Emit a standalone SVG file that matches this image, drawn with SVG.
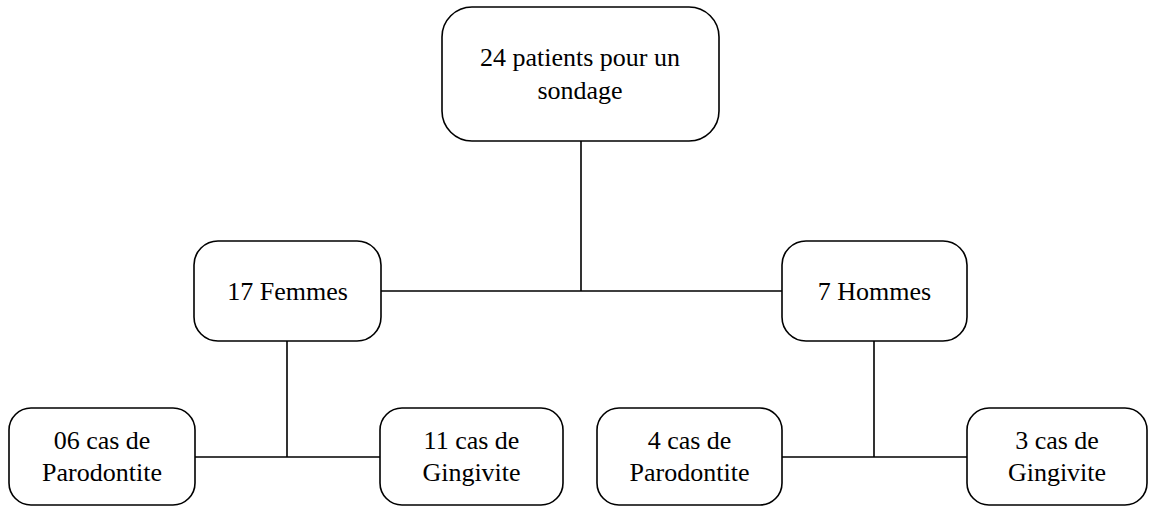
<svg xmlns="http://www.w3.org/2000/svg" width="1150" height="507" viewBox="0 0 1150 507">
<style>
.box{fill:#fff;stroke:#000;stroke-width:1.6}
.t{font-family:"Liberation Serif","Times New Roman",serif;font-size:26px;fill:#000;text-anchor:middle}
.c{stroke:#000;stroke-width:1.6;fill:none}
</style>
<rect width="1150" height="507" fill="#fff"/>
<g id="connectors">
<path class="c" d="M581 141V291M381 291H782"/>
<path class="c" d="M287 341V457M195 457H380"/>
<path class="c" d="M874 341V457M782 457H967"/>
</g>
<g id="root">
<rect class="box" x="442" y="7" width="277" height="134" rx="30"/>
<text class="t" x="580" y="66">24 patients pour un</text>
<text class="t" x="580" y="99">sondage</text>
</g>
<g id="femmes">
<rect class="box" x="194" y="241" width="187" height="100" rx="24"/>
<text class="t" x="287.5" y="300">17 Femmes</text>
</g>
<g id="hommes">
<rect class="box" x="782" y="241" width="185" height="100" rx="24"/>
<text class="t" x="874.5" y="300">7 Hommes</text>
</g>
<g id="parodontite-f">
<rect class="box" x="9" y="408" width="186" height="97" rx="22"/>
<text class="t" x="102" y="449">06 cas de</text>
<text class="t" x="102" y="481">Parodontite</text>
</g>
<g id="gingivite-f">
<rect class="box" x="380" y="408" width="183" height="97" rx="22"/>
<text class="t" x="471.5" y="449">11 cas de</text>
<text class="t" x="471.5" y="481">Gingivite</text>
</g>
<g id="parodontite-h">
<rect class="box" x="597" y="408" width="185" height="97" rx="22"/>
<text class="t" x="689.5" y="449">4 cas de</text>
<text class="t" x="689.5" y="481">Parodontite</text>
</g>
<g id="gingivite-h">
<rect class="box" x="967" y="408" width="180" height="97" rx="22"/>
<text class="t" x="1057" y="449">3 cas de</text>
<text class="t" x="1057" y="481">Gingivite</text>
</g>
</svg>
